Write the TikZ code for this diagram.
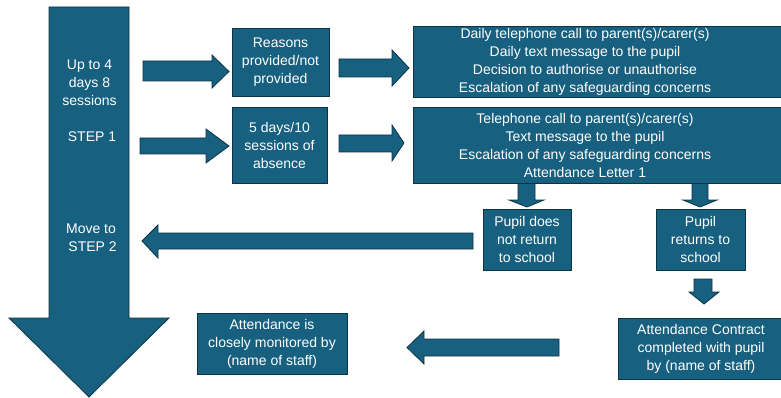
\documentclass[tikz,border=0pt]{standalone}
\usepackage{fontspec}
\setmainfont{Liberation Sans}
\definecolor{tealc}{HTML}{17607F}
\definecolor{edgec}{HTML}{0D3446}
\begin{document}
\begin{tikzpicture}[x=1pt,y=-1pt,
  blk/.style={fill=tealc,draw=edgec,line width=0.8pt,line join=miter},
  box/.style={blk,inner sep=0pt,text=white,align=center,font=\fontsize{14}{18}\selectfont},
  txt/.style={inner sep=0pt,text=white,align=center,font=\fontsize{14}{18}\selectfont}]
\useasboundingbox (0,0) rectangle (781,398);
\clip (0,0) rectangle (781,398);
% big down arrow
\draw[blk] (49,7) -- (129,7) -- (129,318) -- (169,318) -- (89,397) -- (9,318) -- (49,318) -- cycle;
\node[txt] (step1a) at (89.5,83) {Up to 4\\days 8\\sessions};
\node[txt] (step1) at (92,137) {STEP 1};
\node[txt] (step2) at (91,238) {Move to\\\hphantom{i}STEP 2};
% boxes
\node[box,minimum width=97pt,minimum height=68pt] (reasons) at (280.5,62) {Reasons\\provided/not\\provided};
\node[box,minimum width=95pt,minimum height=76pt] (five) at (279.5,145) {5 days/10\\sessions of\\absence};
\node[blk,minimum width=372pt,minimum height=71pt,inner sep=0pt] (daily) at (599,61.5) {};
\node[txt] (dailyt) at (585,61.5) {Daily telephone call to parent(s)/carer(s)\\Daily text message to the pupil\\Decision to authorise or unauthorise\\Escalation of any safeguarding concerns};
\node[blk,minimum width=372pt,minimum height=76pt,inner sep=0pt] (call) at (599,145) {};
\node[txt] (callt) at (585,145) {Telephone call to parent(s)/carer(s)\\Text message to the pupil\\Escalation of any safeguarding concerns\\Attendance Letter 1};
\node[box,minimum width=88pt,minimum height=61pt] (notret) at (527,239.5) {Pupil does\\not return\\to school};
\node[box,minimum width=89pt,minimum height=61pt] (ret) at (700.5,239.5) {Pupil\\returns to\\school};
\node[blk,minimum width=166pt,minimum height=61pt,inner sep=0pt] (contract) at (701,348.5) {};
\node[txt] (contractt) at (701,348.5) {Attendance Contract\\completed with pupil\\by (name of staff)};
\node[box,minimum width=150pt,minimum height=61pt] (monitor) at (272,343.5) {Attendance is\\closely monitored by\\(name of staff)};
% right arrows
\draw[blk] (143,61) -- (212,61) -- (212,55) -- (229,71.5) -- (212,88) -- (212,81) -- (143,81) -- cycle;
\draw[blk] (140,138) -- (206,138) -- (206,129) -- (229,146) -- (206,163) -- (206,154) -- (140,154) -- cycle;
\draw[blk] (339,59) -- (392,59) -- (392,50) -- (409,68) -- (392,86) -- (392,77) -- (339,77) -- cycle;
\draw[blk] (339,135) -- (392,135) -- (392,125) -- (404,143) -- (392,161) -- (392,152) -- (339,152) -- cycle;
% small down arrows
\draw[blk] (518,183.5) -- (535,183.5) -- (535,200) -- (544,200) -- (527,207) -- (509,200) -- (518,200) -- cycle;
\draw[blk] (692,183.5) -- (708,183.5) -- (708,200) -- (717,200) -- (700,207) -- (683,200) -- (692,200) -- cycle;
\draw[blk] (694,279) -- (712,279) -- (712,292) -- (719,292) -- (704,304) -- (689,292) -- (694,292) -- cycle;
% left arrows
\draw[blk] (473,233) -- (158,233) -- (158,225) -- (142,241) -- (158,258) -- (158,249) -- (473,249) -- cycle;
\draw[blk] (559,339) -- (424,339) -- (424,331) -- (407,347.5) -- (424,364) -- (424,356) -- (559,356) -- cycle;
\end{tikzpicture}
\end{document}
